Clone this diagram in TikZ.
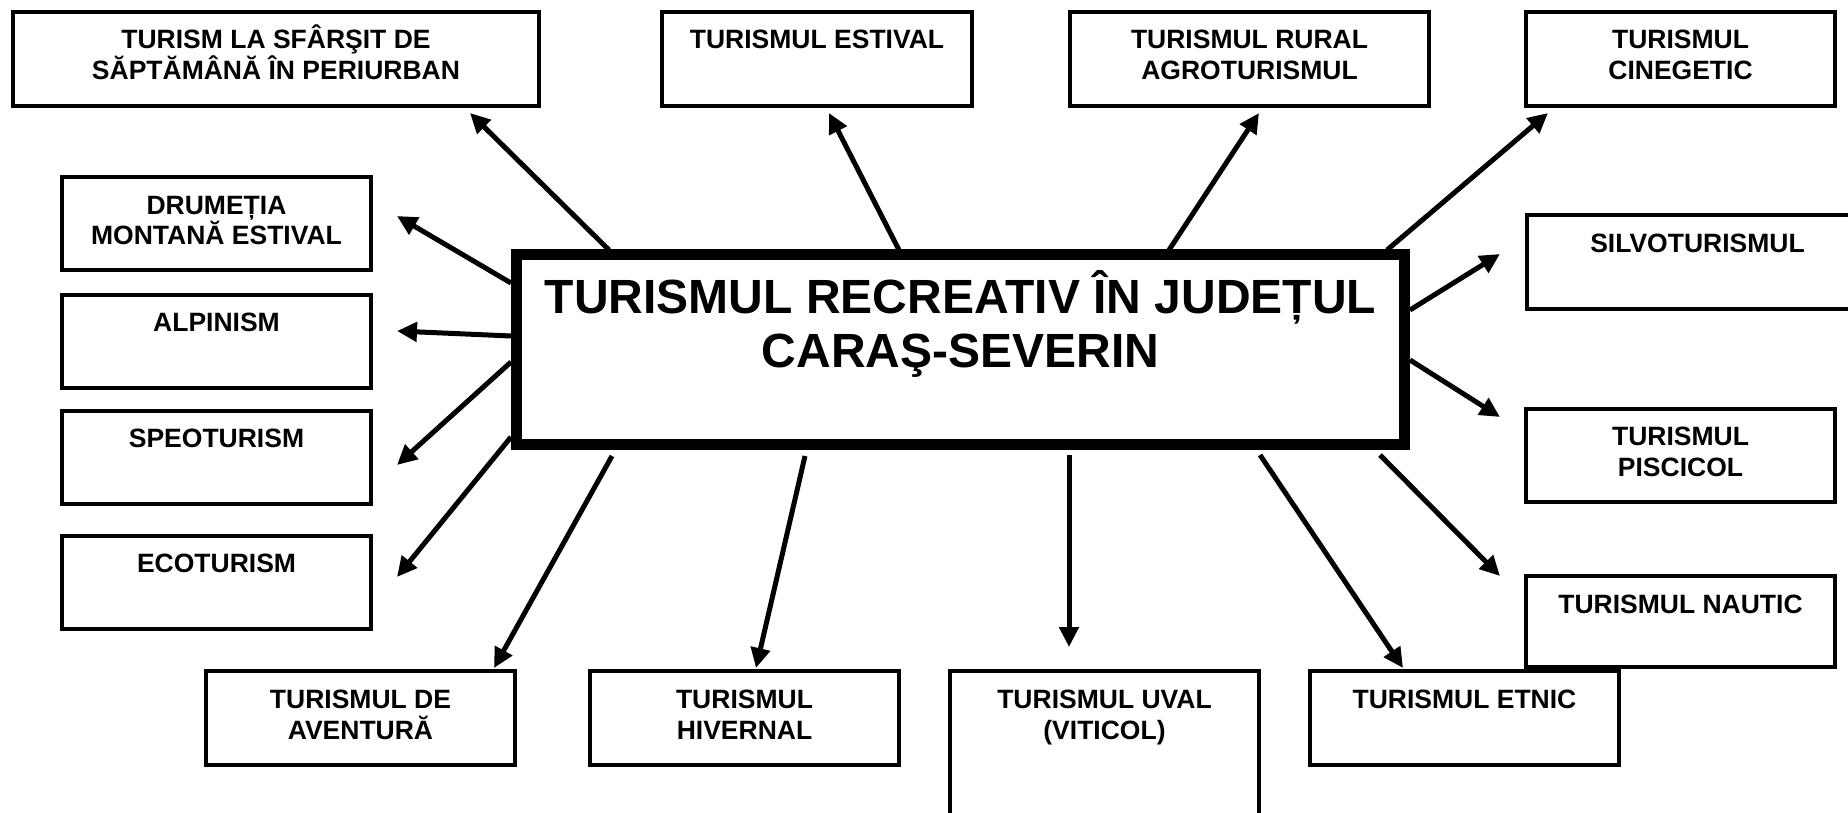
\documentclass[tikz,border=0pt]{standalone}
\usepackage{fontspec}
\setmainfont{Liberation Sans}
\usetikzlibrary{arrows.meta}
\begin{document}
\begin{tikzpicture}[x=1pt,y=-1pt,
  box/.style={draw=black, line width=4pt, inner sep=0pt},
  lbl/.style={font=\bfseries\fontsize{26.5}{31}\selectfont, align=center, anchor=base, inner sep=0pt},
  arr/.style={line width=5pt, -{Triangle[length=20pt,width=19pt]}},
]
\clip (0,0) rectangle (1848,813);
\fill[white] (0,0) rectangle (1848,813);
% outer boxes
\node[box, minimum width=526pt, minimum height=94pt] (A) at (276,59) {};
\node[box, minimum width=310pt, minimum height=94pt] (B) at (817,59) {};
\node[box, minimum width=359pt, minimum height=94pt] (C) at (1249.5,59) {};
\node[box, minimum width=309pt, minimum height=94pt] (D) at (1680.5,59) {};
\node[box, minimum width=309pt, minimum height=93pt] (E) at (216.5,223.5) {};
\node[box, minimum width=309pt, minimum height=93pt] (F) at (216.5,341) {};
\node[box, minimum width=309pt, minimum height=93pt] (G) at (216.5,457) {};
\node[box, minimum width=309pt, minimum height=93pt] (H) at (216.5,582) {};
\node[box, minimum width=341pt, minimum height=93pt] (I) at (1697.5,262) {};
\node[box, minimum width=309pt, minimum height=93pt] (J) at (1680.5,455) {};
\node[box, minimum width=309pt, minimum height=91pt] (K) at (1680.5,621.5) {};
\node[box, minimum width=309pt, minimum height=94pt] (L) at (360.5,718) {};
\node[box, minimum width=309pt, minimum height=94pt] (M) at (744.5,718) {};
\node[box, minimum width=309pt, minimum height=194pt] (N) at (1104.5,768) {};
\node[box, minimum width=309pt, minimum height=94pt] (O) at (1464.5,718) {};
% labels (base anchor = last line)
\node[lbl] (At) at ([yshift=-70pt]A.north) {TURISM LA SFÂRŞIT DE\\SĂPTĂMÂNĂ ÎN PERIURBAN};
\node[lbl] (Bt) at ([yshift=-39pt]B.north) {TURISMUL ESTIVAL};
\node[lbl] (Ct) at ([yshift=-70pt]C.north) {TURISMUL RURAL\\AGROTURISMUL};
\node[lbl] (Dt) at ([yshift=-70pt]D.north) {TURISMUL\\CINEGETIC};
\node[lbl] (Et) at ([yshift=-70pt]E.north) {DRUMEȚIA\\MONTANĂ ESTIVAL};
\node[lbl] (Ft) at ([yshift=-39pt]F.north) {ALPINISM};
\node[lbl] (Gt) at ([yshift=-39pt]G.north) {SPEOTURISM};
\node[lbl] (Ht) at ([yshift=-39pt]H.north) {ECOTURISM};
\node[lbl] (It) at ([yshift=-39pt]I.north) {SILVOTURISMUL};
\node[lbl] (Jt) at ([yshift=-70pt]J.north) {TURISMUL\\PISCICOL};
\node[lbl] (Kt) at ([yshift=-39pt]K.north) {TURISMUL NAUTIC};
\node[lbl] (Lt) at ([yshift=-70pt]L.north) {TURISMUL DE\\AVENTURĂ};
\node[lbl] (Mt) at ([yshift=-70pt]M.north) {TURISMUL\\HIVERNAL};
\node[lbl] (Nt) at ([yshift=-70pt]N.north) {TURISMUL UVAL\\(VITICOL)};
\node[lbl] (Ot) at ([yshift=-39pt]O.north) {TURISMUL ETNIC};
% central box
\node[draw=black, line width=11pt, minimum width=888pt, minimum height=190pt, inner sep=0pt] (T) at (960.5,349.5) {};
\node[font=\bfseries\fontsize{48}{54}\selectfont, align=center, anchor=base, inner sep=0pt] (Tt) at (960.5,367) {TURISMUL RECREATIV ÎN JUDEȚUL\\CARAŞ-SEVERIN};
% arrow ends
\coordinate (s1) at (609,250);   \coordinate (t1) at (470,113);
\coordinate (s2) at (899,250);   \coordinate (t2) at (829,113);
\coordinate (s3) at (1169,250);  \coordinate (t3) at (1259,113);
\coordinate (s4) at (1387,250);  \coordinate (t4) at (1548,113);
\coordinate (s5) at (511,283);   \coordinate (t5) at (397,216);
\coordinate (s6) at (511,336);   \coordinate (t6) at (397,331);
\coordinate (s7) at (511,362);   \coordinate (t7) at (397,465);
\coordinate (s8) at (511,437);   \coordinate (t8) at (397,577);
\coordinate (s9) at (1410,310);  \coordinate (t9) at (1500,254);
\coordinate (s10) at (1410,360); \coordinate (t10) at (1500,417);
\coordinate (s11) at (1380,455); \coordinate (t11) at (1500,576);
\coordinate (s12) at (612,456);  \coordinate (t12) at (494,668);
\coordinate (s13) at (805,456);  \coordinate (t13) at (756,668);
\coordinate (s14) at (1069,455); \coordinate (t14) at (1069,647);
\coordinate (s15) at (1260,455); \coordinate (t15) at (1403,668);
\foreach \i in {1,...,15} { \draw[arr] (s\i) -- (t\i); }
\end{tikzpicture}
\end{document}
